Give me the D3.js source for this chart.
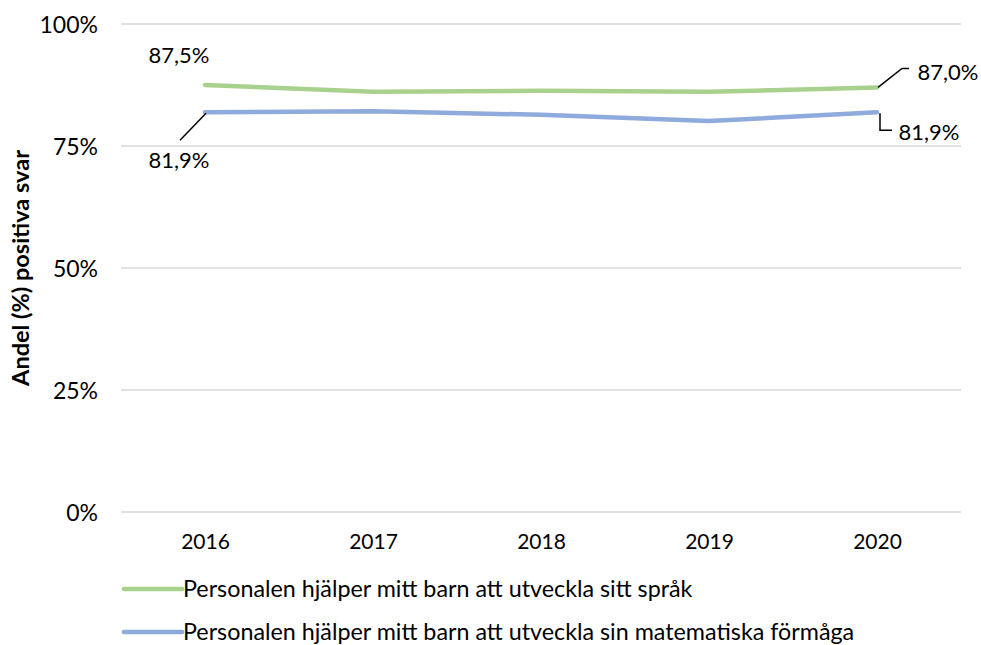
<!DOCTYPE html>
<html><head><meta charset="utf-8">
<script src="https://cdn.jsdelivr.net/npm/d3@7"></script>
<style>
body{margin:0;background:#fff;}
text{font-family:Lato,"Noto Sans",sans-serif;fill:#000;}
</style></head>
<body><svg id="c" width="981" height="645"></svg>
<script>
const years = ["2016","2017","2018","2019","2020"];
const sprak = [87.5, 86.1, 86.3, 86.1, 87.0];
const matte = [81.9, 82.1, 81.4, 80.1, 81.9];
const seriesNames = ["Personalen hjälper mitt barn att utveckla sitt språk",
                     "Personalen hjälper mitt barn att utveckla sin matematiska förmåga"];
const seriesColors = ["#a9d18e", "#8faadc"];
const yTicks = [0, 25, 50, 75, 100];
const yTitle = "Andel (%) positiva svar";

const svg = d3.select("#c");
const x = d3.scalePoint().domain(years).range([205, 877]);
const y = d3.scaleLinear().domain([0, 100]).range([512, 24]);
const fmt = v => d3.format(".1f")(v).replace(".", ",") + "%";

// gridlines
svg.append("g").selectAll("line").data(yTicks).join("line")
  .attr("x1", 121).attr("x2", 961)
  .attr("y1", d => y(d)).attr("y2", d => y(d))
  .attr("stroke", "#d9d9d9").attr("stroke-width", 1.3);

// y axis labels
const yAxis = svg.append("g").attr("transform", "translate(98,0)")
  .call(d3.axisLeft(y).tickValues(yTicks).tickSize(0).tickPadding(0).tickFormat(d => d + "%"));
yAxis.select(".domain").remove();
yAxis.selectAll("text").attr("font-size", 23).attr("font-family", "Lato").attr("fill", "#111").attr("dy", "0.35em");

// x axis labels
const xAxis = svg.append("g").attr("transform", "translate(0,512)")
  .call(d3.axisBottom(x).tickSize(0).tickPadding(22));
xAxis.select(".domain").remove();
xAxis.selectAll("text").attr("font-size", 21).attr("font-family", "Lato").attr("fill", "#111");

// y title
svg.append("text").attr("transform", "translate(29,268) rotate(-90)")
  .attr("text-anchor", "middle").attr("font-size", 23.5).attr("font-weight", "bold")
  .text(yTitle);

// lines
const line = d3.line().x((d, i) => x(years[i])).y(d => y(d));
[sprak, matte].forEach((s, k) => {
  svg.append("path").datum(s).attr("d", line).attr("fill", "none")
    .attr("stroke", seriesColors[k]).attr("stroke-width", 4.5)
    .attr("stroke-linejoin", "round").attr("stroke-linecap", "round");
});

// data labels with leader lines
const first = years[0], last = years[years.length - 1];
const lbl = (t, xx, yy) => svg.append("text").attr("x", xx).attr("y", yy)
  .attr("dy", "0.35em").attr("font-size", 22).attr("text-anchor", "middle").text(t);
const leader = pts => svg.append("path").attr("d", d3.line()(pts))
  .attr("fill", "none").attr("stroke", "#000").attr("stroke-width", 1.5);

lbl(fmt(sprak[0]), x(first) - 26, y(sprak[0]) - 30);
lbl(fmt(matte[0]), x(first) - 26, y(matte[0]) + 48);
leader([[x(first) + 1, y(matte[0]) + 1], [x(first) - 25, y(matte[0]) + 28]]);

const n = years.length - 1;
lbl(fmt(sprak[n]), x(last) + 71, y(sprak[n]) - 15);
leader([[x(last) + 1, y(sprak[n])], [x(last) + 25, y(sprak[n]) - 19], [x(last) + 32, y(sprak[n]) - 19]]);
lbl(fmt(matte[n]), x(last) + 52, y(matte[n]) + 20);
leader([[x(last) + 3, y(matte[n]) + 1], [x(last) + 3, y(matte[n]) + 18], [x(last) + 15, y(matte[n]) + 18]]);

// legend
const legY = [589, 632];
seriesNames.forEach((nm, k) => {
  svg.append("line").attr("x1", 124).attr("x2", 182).attr("y1", legY[k]).attr("y2", legY[k])
    .attr("stroke", seriesColors[k]).attr("stroke-width", 4.5).attr("stroke-linecap", "round");
  svg.append("text").attr("x", 183).attr("y", legY[k]).attr("dy", "0.35em")
    .attr("font-size", 23.3).text(nm);
});
</script></body></html>
